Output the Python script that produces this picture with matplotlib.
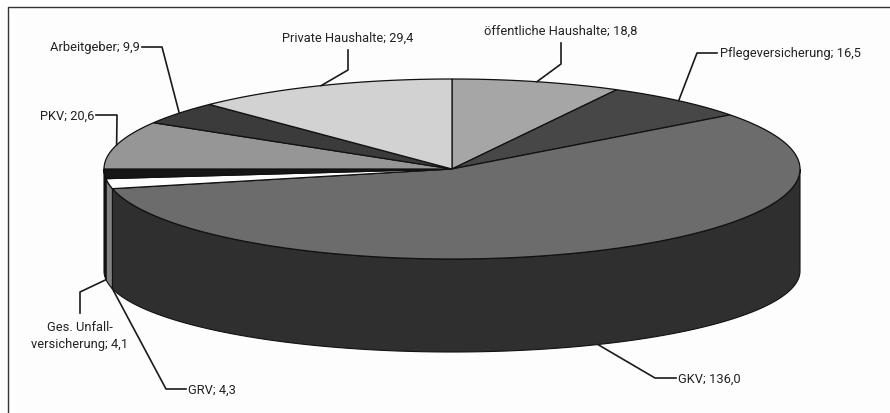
import matplotlib
matplotlib.use("Agg")
import matplotlib.pyplot as plt
import numpy as np
from matplotlib.patches import Polygon

# %%
# values as printed in the labels, clockwise from 12 o'clock
names = ["öffentliche Haushalte", "Pflegeversicherung", "GKV", "GRV",
         "Ges. Unfall-\nversicherung", "PKV", "Arbeitgeber", "Private Haushalte"]
values = [18.8, 16.5, 136.0, 4.3, 4.1, 20.6, 9.9, 29.4]
value_labels = ["18,8", "16,5", "136,0", "4,3", "4,1", "20,6", "9,9", "29,4"]

top_colors = ["#a6a6a6", "#474747", "#6c6c6c", "#ffffff", "#161616", "#969696", "#3b3b3b", "#d2d2d2"]
side_colors = ["#808080", "#303030", "#2f2f2f", "#808080", "#111111", "#707070", "#2a2a2a", "#a0a0a0"]

# pie geometry in pixels, the lower rim is a bit flatter than the top one
cx, cy = 452, 170
rx, ry = 348, 90
cy_low, ry_low = 272, 81

plt.rcParams["font.family"] = ["Roboto", "Liberation Sans", "DejaVu Sans"]

fig = plt.figure(figsize=(8.9, 4.14), dpi=100)
ax = fig.add_axes([0, 0, 1, 1])
ax.set_xlim(0, 890)
ax.set_ylim(414, 0)
ax.axis("off")

# frame: only top and left are visible in the scan
ax.plot([890, 8, 8], [8, 8, 414], color="#333333", lw=1.0)


def rim(a):
    a = np.radians(a)
    return cx + rx * np.sin(a), cy - ry * np.cos(a)


def rim_low(a):
    a = np.radians(a)
    return cx + rx * np.sin(a), cy_low - ry_low * np.cos(a)


# %%
edges = np.concatenate([[0], np.cumsum(values)]) / np.sum(values) * 360

# side walls, only the front half (90..270 deg) can be seen
for i in range(len(values)):
    a0, a1 = max(edges[i], 90), min(edges[i + 1], 270)
    if a1 <= a0:
        continue
    t = np.linspace(a0, a1, 200)
    x, y = rim(t)
    xb, yb = rim_low(t[::-1])
    ax.add_patch(Polygon(np.column_stack([np.r_[x, xb], np.r_[y, yb]]),
                         fc=side_colors[i], ec="#111111", lw=0.8, zorder=2))

# top face
for i in range(len(values)):
    t = np.linspace(edges[i], edges[i + 1], 200)
    x, y = rim(t)
    ax.add_patch(Polygon(np.column_stack([np.r_[cx, x], np.r_[cy, y]]),
                         fc=top_colors[i], ec="#111111", lw=0.9, zorder=3))

# %%
# leader lines start at the middle of each slice on the rim
mids = (edges[:-1] + edges[1:]) / 2
leaders = {
    0: [(561, 65), (561, 44)],
    1: [(697, 54), (717, 54)],
    2: [(655, 379), (676, 379)],
    3: [(166, 390), (186, 390)],
    4: [(80, 293), (80, 314)],
    5: [(117, 116), (96, 116)],
    6: [(162, 48), (142, 48)],
    7: [(348, 71), (348, 51)],
}
starts = {i: rim(mids[i]) for i in leaders}
starts[2] = rim_low(mids[2])
starts[3] = rim_low(edges[3])
starts[4] = rim_low(edges[4])

for i, pts in leaders.items():
    xs = [starts[i][0]] + [p[0] for p in pts]
    ys = [starts[i][1]] + [p[1] for p in pts]
    ax.plot(xs, ys, color="#1a1a1a", lw=1.2, zorder=4)

# %%
text_pos = [(561, 31, "center"), (720, 54, "left"), (678, 379, "left"), (188, 390, "left"),
            (80, 336, "center"), (94, 116, "right"), (140, 48, "right"), (348, 38, "center")]
for n, v, (tx, ty, ha) in zip(names, value_labels, text_pos):
    ax.text(tx, ty, n + "; " + v, ha=ha, va="center", fontsize=9.3, color="#222222",
            linespacing=1.35, zorder=5)

fig.savefig("out.png", dpi=100, facecolor="#fdfdfd")
